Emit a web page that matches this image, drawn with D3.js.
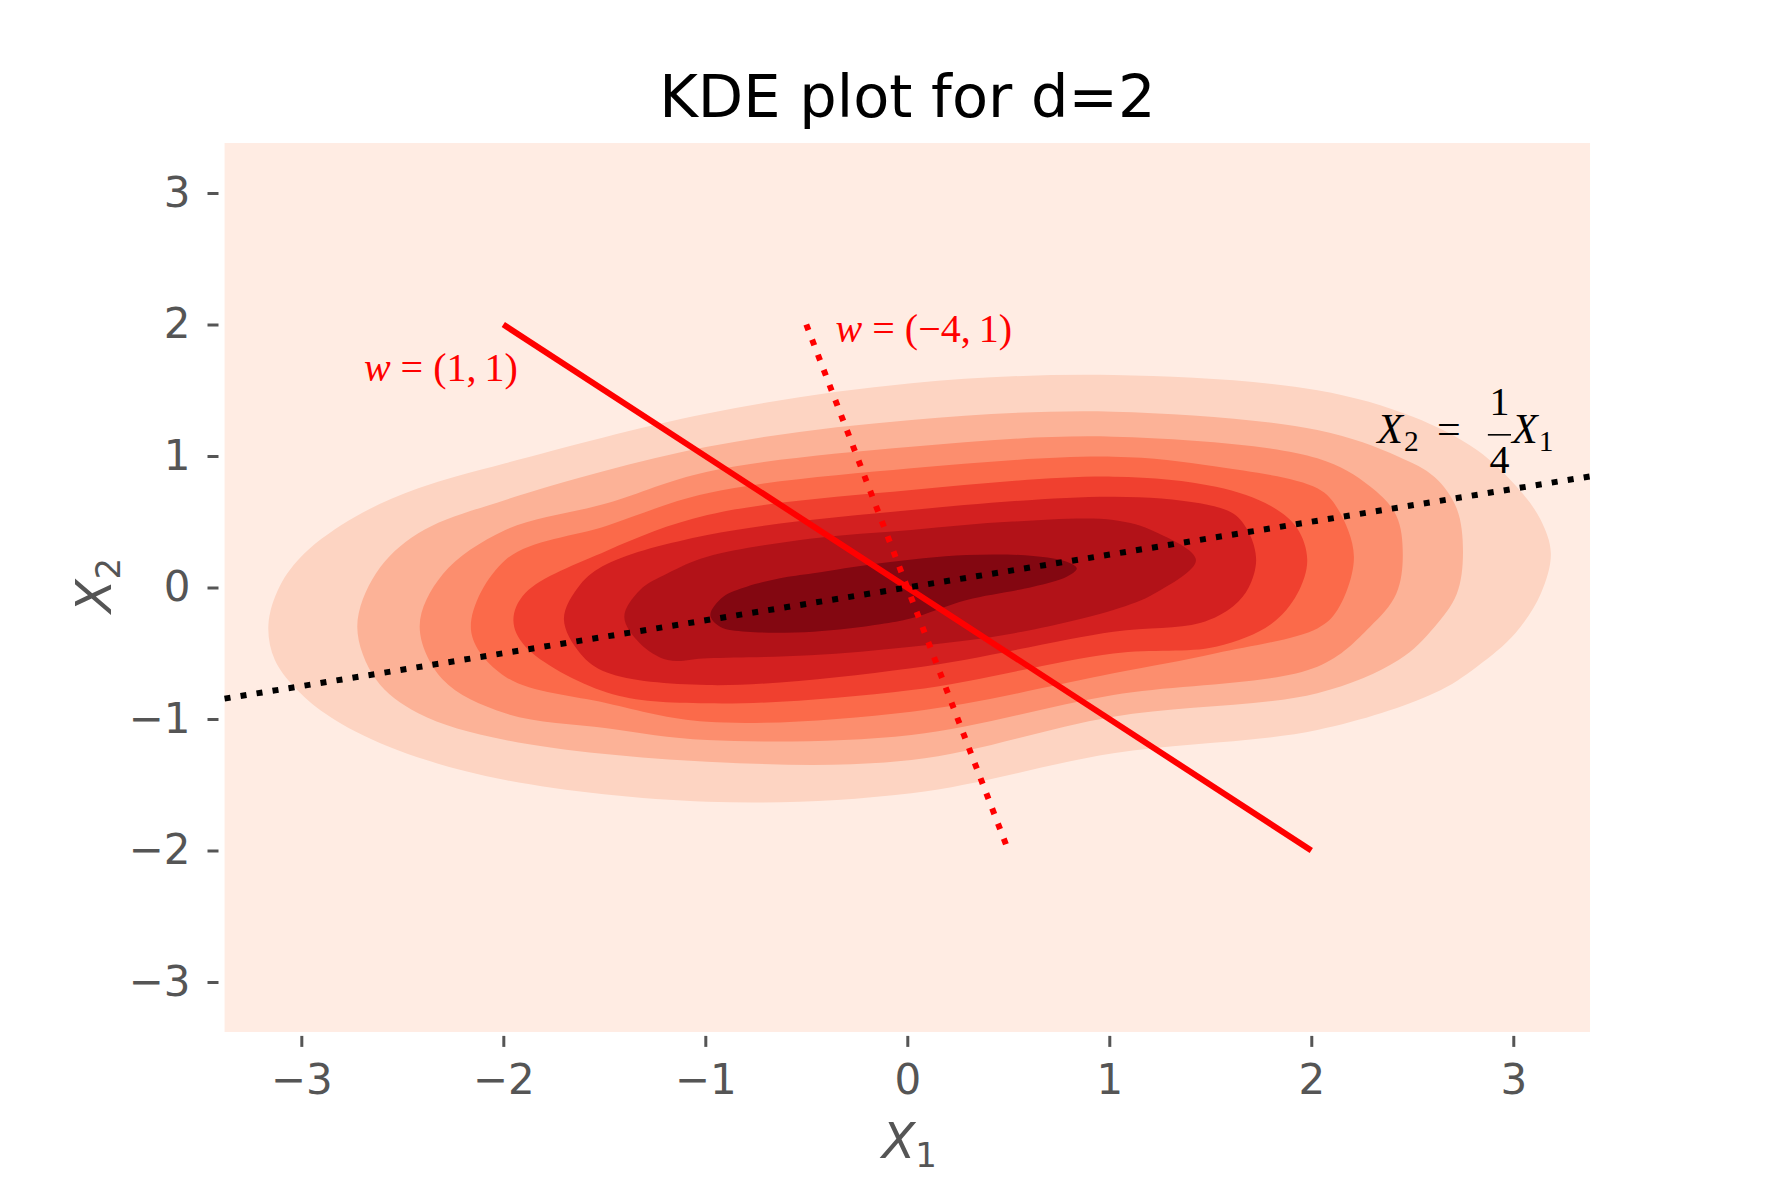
<!DOCTYPE html>
<html>
<head>
<meta charset="utf-8">
<script src="https://cdn.jsdelivr.net/npm/d3@7"></script>
<style>
  body { margin: 0; background: #fff; }
  svg { display: block; }
</style>
</head>
<body>
<svg id="chart" width="1768" height="1179"></svg>
<script>
// values
const ticks = [-3, -2, -1, 0, 1, 2, 3]
const gridExtent = [-3.38, 3.38]

// filled KDE contours, outermost first, as [x1, x2] outlines
const contour1 = [[-3.163, -0.285], [-3.108, 0.006], [-2.984, 0.26], [-2.733, 0.538], [-2.421, 0.754],
  [-1.99, 0.945], [-0.99, 1.324], [0.02, 1.553], [1.02, 1.616], [2.03, 1.501], [2.503, 1.299],
  [2.82, 1.045], [3.031, 0.741], [3.136, 0.513], [3.186, 0.26], [3.137, -0.044], [3.01, -0.348],
  [2.82, -0.602], [2.607, -0.805], [2.03, -1.084], [1.02, -1.261], [0.02, -1.565], [-0.99, -1.629],
  [-1.99, -1.464], [-2.525, -1.236], [-2.833, -1.008], [-3.004, -0.805], [-3.131, -0.552]]
const contour2 = [[-2.723, -0.298], [-2.63, 0.108], [-2.421, 0.412], [-1.99, 0.666], [-0.99, 1.07],
  [0.02, 1.274], [1.02, 1.337], [2.03, 1.197], [2.432, 0.995], [2.61, 0.84], [2.72, 0.6],
  [2.751, 0.26], [2.72, -0.05], [2.61, -0.3], [2.432, -0.552], [2.03, -0.804], [1.02, -0.982],
  [0.02, -1.312], [-0.99, -1.325], [-1.99, -1.16], [-2.421, -0.957], [-2.63, -0.7]]
const contour3 = [[-2.414, -0.295], [-2.3, 0.1], [-1.99, 0.437], [-1.487, 0.64], [-0.99, 0.88],
  [0.02, 1.07], [1.02, 1.147], [2.03, 0.982], [2.29, 0.77], [2.42, 0.55], [2.453, 0.247],
  [2.42, -0.05], [2.29, -0.3], [2.03, -0.602], [1.02, -0.817], [0.02, -1.121], [-0.99, -1.16],
  [-1.487, -1.07], [-1.99, -0.957], [-2.3, -0.7]]
const contour4 = [[-2.16, -0.323], [-1.99, 0.209], [-1.487, 0.47], [-0.99, 0.716], [0.02, 0.906],
  [1.02, 0.995], [1.528, 0.92], [2.03, 0.754], [2.13, 0.6], [2.211, 0.234], [2.13, -0.17],
  [2.03, -0.311], [1.528, -0.5], [1.02, -0.653], [0.02, -0.944], [-0.99, -1.021], [-1.487, -0.88],
  [-1.99, -0.678]]
const contour5 = [[-1.95, -0.25], [-1.89, -0.04], [-1.487, 0.28], [-0.99, 0.551], [0.02, 0.741],
  [1.02, 0.843], [1.528, 0.766], [1.8, 0.62], [1.93, 0.45], [1.98, 0.209], [1.93, -0.05],
  [1.8, -0.28], [1.528, -0.45], [1.02, -0.501], [0.02, -0.78], [-0.99, -0.881], [-1.487, -0.798],
  [-1.89, -0.45]]
const contour6 = [[-1.7, -0.24], [-1.62, 0.02], [-1.487, 0.178], [-0.99, 0.399], [0.02, 0.589],
  [1.02, 0.691], [1.449, 0.64], [1.615, 0.56], [1.69, 0.42], [1.727, 0.209], [1.69, 0.0],
  [1.615, -0.14], [1.449, -0.27], [1.02, -0.336], [0.02, -0.615], [-0.99, -0.742], [-1.487, -0.647],
  [-1.62, -0.5]]
const contour7 = [[-1.401, -0.222], [-1.323, -0.019], [-1.186, 0.108], [-0.99, 0.234], [-0.482, 0.37],
  [0.02, 0.437], [0.523, 0.501], [1.02, 0.513], [1.226, 0.424], [1.429, 0.209], [1.226, -0.044],
  [1.02, -0.171], [0.523, -0.349], [0.02, -0.45], [-0.482, -0.516], [-0.99, -0.538],
  [-1.186, -0.551], [-1.323, -0.425]]
const contour8 = [[-0.975, -0.209], [-0.911, -0.07], [-0.795, 0.006], [-0.63, 0.07], [-0.465, 0.108],
  [-0.135, 0.184], [0.294, 0.247], [0.623, 0.24], [0.789, 0.196], [0.839, 0.146], [0.789, 0.082],
  [0.623, 0.006], [0.294, -0.095], [0.02, -0.234], [-0.135, -0.28], [-0.465, -0.336],
  [-0.795, -0.336], [-0.927, -0.298]]
const contours = [contour1, contour2, contour3, contour4, contour5, contour6, contour7, contour8]

// projection directions and the regression line
const segW11 = [[-2, 2], [2, -2]]
const segW41 = [[-0.5, 2], [0.5, -2]]
const segQuarter = [[-3.38, -0.845], [3.38, 0.845]]

const labelW11 = { at: [-2.69, 1.57], name: 'w', rest: ' = (1,\u20091)' }
const labelW41 = { at: [-0.355, 1.87], name: 'w', rest: ' = (\u22124,\u20091)' }
const labelQuarter = [2.327, 1.097]

const redsStops = ['#fff5f0', '#fee0d2', '#fcbba1', '#fc9272', '#fb6a4a', '#ef3b2c', '#cb181d', '#a50f15', '#67000d']

const svg = d3.select('#chart')
const x = d3.scaleLinear().domain([-3.41, 3.41]).range([218.5, 1596.1])
const y = d3.scaleLinear().domain([-3.41, 3.41]).range([1035.9, 139.1])

const reds = d3.scaleLinear().domain(d3.range(9).map(i => i / 8)).range(redsStops)
const layerColor = k => reds((k + 0.5) / 9)

// lowest band covers the whole kde grid
svg.append('rect')
  .attr('x', x(gridExtent[0]))
  .attr('y', y(gridExtent[1]))
  .attr('width', x(gridExtent[1]) - x(gridExtent[0]))
  .attr('height', y(gridExtent[0]) - y(gridExtent[1]))
  .attr('fill', layerColor(0))

const outline = d3.line()
  .x(d => x(d[0]))
  .y(d => y(d[1]))
  .curve(d3.curveCatmullRomClosed.alpha(0.5))

svg.append('g')
  .selectAll('path')
  .data(contours)
  .enter()
  .append('path')
  .attr('d', outline)
  .attr('fill', (d, i) => layerColor(i + 1))

// axes, no spines
const fmt = d => d < 0 ? '\u2212' + (-d) : String(d)

function style_axis(g) {
  g.select('.domain').remove()
  g.attr('font-family', 'DejaVu Sans').attr('font-size', 42)
  g.selectAll('.tick line').attr('stroke', '#555').attr('stroke-width', 3)
  g.selectAll('.tick text').attr('fill', '#555')
}

svg.append('g')
  .attr('transform', `translate(0,${y.range()[0]})`)
  .call(d3.axisBottom(x).tickValues(ticks).tickSize(11).tickPadding(17).tickFormat(fmt))
  .call(style_axis)

svg.append('g')
  .attr('transform', `translate(${x.range()[0]},0)`)
  .call(d3.axisLeft(y).tickValues(ticks).tickSize(11).tickPadding(17).tickFormat(fmt))
  .call(style_axis)

// lines
const seg = d3.line().x(d => x(d[0])).y(d => y(d[1]))

svg.append('path')
  .attr('d', seg(segW11))
  .attr('stroke', '#ff0000').attr('stroke-width', 6).attr('fill', 'none')

svg.append('path')
  .attr('d', seg(segW41))
  .attr('stroke', '#ff0000').attr('stroke-width', 6).attr('fill', 'none')
  .attr('stroke-dasharray', '6 10.2')

svg.append('path')
  .attr('d', seg(segQuarter))
  .attr('stroke', '#000').attr('stroke-width', 6).attr('fill', 'none')
  .attr('stroke-dasharray', '6 10.2')

// math labels
const mathFont = 'Liberation Serif'

function w_label(lab) {
  const t = svg.append('text')
    .attr('x', x(lab.at[0]))
    .attr('y', y(lab.at[1]))
    .attr('font-family', mathFont)
    .attr('font-size', 40)
    .attr('fill', '#ff0000')
    .attr('xml:space', 'preserve')
  t.append('tspan').attr('font-style', 'italic').text(lab.name)
  t.append('tspan').text(lab.rest)
}
w_label(labelW11)
w_label(labelW41)

{
  const fs = 42
  const k = 40 / 38
  const g = svg.append('g')
    .attr('transform', `translate(${x(labelQuarter[0])},${y(labelQuarter[1])})`)
    .attr('font-family', mathFont)
    .attr('font-size', fs)
    .attr('fill', '#000')
  const first = g.append('text').attr('font-style', 'italic').text('X')
  const wX = first.node().getComputedTextLength()
  g.append('text').attr('x', wX + 1).attr('y', 7 * k).attr('font-size', 0.7 * fs).text('2')
  g.append('text').attr('x', 68 * k).attr('text-anchor', 'middle').text('=')
  g.append('line')
    .attr('x1', 105 * k).attr('x2', 127 * k)
    .attr('y1', -8 * k).attr('y2', -8 * k)
    .attr('stroke', '#000').attr('stroke-width', 1.6)
  g.append('text').attr('x', 116 * k).attr('y', -26.6 * k).attr('text-anchor', 'middle').attr('font-size', 40).text('1')
  g.append('text').attr('x', 116 * k).attr('y', 28 * k).attr('text-anchor', 'middle').attr('font-size', 40).text('4')
  g.append('text').attr('x', 128 * k).attr('font-style', 'italic').text('X')
  g.append('text').attr('x', 128 * k + wX + 1).attr('y', 7 * k).attr('font-size', 0.7 * fs).text('1')
}

// axis labels
function axis_label(g, sub) {
  const t = g.append('text')
    .attr('text-anchor', 'middle')
    .attr('font-family', 'DejaVu Sans')
    .attr('font-size', 49)
    .attr('fill', '#555')
  t.append('tspan').attr('font-style', 'italic').text('X')
  t.append('tspan').attr('font-size', 34).attr('dy', 9).text(sub)
}

axis_label(svg.append('g').attr('transform', `translate(${x(0) + 2},1158)`), '1')
axis_label(svg.append('g').attr('transform', `translate(111,${y(0) - 2}) rotate(-90)`), '2')

// title
svg.append('text')
  .attr('x', (x.range()[0] + x.range()[1]) / 2)
  .attr('y', 117)
  .attr('text-anchor', 'middle')
  .attr('font-family', 'DejaVu Sans')
  .attr('font-size', 59)
  .attr('fill', '#000')
  .text('KDE plot for d=2')
</script>
</body>
</html>
